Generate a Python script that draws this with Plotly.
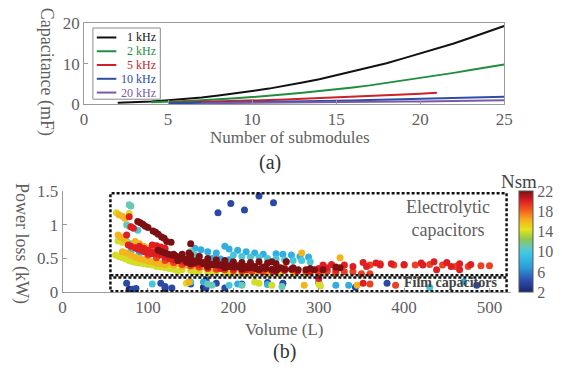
import plotly.graph_objects as go

W, H = 562, 376

# ---------------- Top chart data (capacitance vs number of submodules) ----------
n_1k = list(range(2, 26))
c_1k = [0.3, 0.4, 0.6, 0.9, 1.2, 1.6, 2.1, 2.6, 3.2, 3.8, 4.5, 5.3, 6.1, 7.1, 8.0, 9.0,
        10.1, 11.3, 12.5, 13.7, 15.0, 16.4, 17.8, 19.3]
n_2k = list(range(4, 26))
c_2k = [0.4, 0.5, 0.7, 0.9, 1.1, 1.4, 1.7, 2.0, 2.4, 2.8, 3.2, 3.6, 4.1, 4.6, 5.2, 5.8,
        6.4, 7.0, 7.7, 8.4, 9.1, 9.8]
n_5k = list(range(5, 22))
c_5k = [0.3, 0.4, 0.5, 0.6, 0.7, 0.85, 1.0, 1.1, 1.3, 1.45, 1.6, 1.75, 1.95, 2.15, 2.35,
        2.55, 2.8]
n_10k = list(range(5, 26))
c_10k = [0.15, 0.2, 0.25, 0.3, 0.35, 0.42, 0.48, 0.55, 0.62, 0.7, 0.78, 0.86, 0.95, 1.04,
         1.13, 1.23, 1.33, 1.44, 1.56, 1.68, 1.8]
n_20k = list(range(7, 26))
c_20k = [0.18, 0.2, 0.23, 0.26, 0.29, 0.32, 0.35, 0.38, 0.42, 0.46, 0.5, 0.54, 0.58, 0.63,
         0.68, 0.74, 0.8, 0.86, 0.92]
freq_labels = ["1 kHz", "2 kHz", "5 kHz", "10 kHz", "20 kHz"]
freq_colors = ["#111111", "#1f8f3f", "#cc2228", "#2c4ea6", "#7a5aa6"]

# ---------------- Bottom chart data (power loss vs volume, coloured by Nsm) --------
vol_22 = [88, 91, 94, 97, 100, 106, 109, 112, 116, 119, 122, 127,
          112, 116, 120, 124, 128, 132, 136, 140, 144, 148, 152, 156, 160, 164, 168, 172,
          176, 180, 184, 188, 192, 196, 200, 205, 210, 215, 220, 226, 232, 238, 245, 252,
          260, 268, 276, 285, 295, 305,
          130, 140, 150, 160, 170, 180, 190, 200, 210, 220, 230, 240, 250,
          150, 170, 190, 210, 230, 250, 150, 148, 245, 320, 325, 262,
          135, 145, 155, 165, 175, 185, 195, 205, 215, 225, 235, 255, 270, 290]
loss_22 = [1.05, 1.03, 1.01, 0.98, 0.96, 0.91, 0.89, 0.86, 0.82, 0.80, 0.75, 0.74,
           0.62, 0.60, 0.58, 0.56, 0.55, 0.54, 0.52, 0.50, 0.49, 0.48, 0.47, 0.46, 0.45,
           0.44, 0.43, 0.42, 0.41, 0.40, 0.40, 0.39, 0.38, 0.38, 0.37, 0.37, 0.36, 0.36,
           0.36, 0.35, 0.35, 0.35, 0.34, 0.34, 0.34, 0.34, 0.33, 0.33, 0.33, 0.33,
           0.56, 0.56, 0.55, 0.53, 0.50, 0.48, 0.47, 0.45, 0.44, 0.44, 0.45, 0.43, 0.42,
           0.42, 0.38, 0.36, 0.34, 0.33, 0.32, 0.72, 0.58, 0.45, 0.37, 0.36, 0.45,
           0.47, 0.45, 0.44, 0.42, 0.41, 0.40, 0.39, 0.39, 0.38, 0.38, 0.37, 0.36, 0.36, 0.35]

vol_20 = [78, 80, 83, 75, 77, 80, 85, 88, 92, 96, 100, 104,
          90, 95, 100, 105, 110, 115, 120, 125, 130, 135, 140, 145, 150, 155, 160,
          105, 110, 115, 120,
          300, 305, 310, 315, 320, 330, 340, 352, 356, 367, 372, 385, 400, 420, 422, 435,
          438, 450, 455, 465, 465, 478, 352, 300,
          170, 185, 200, 215, 230, 245, 260, 275, 290]
loss_20 = [1.12, 0.97, 0.95, 0.85, 0.70, 0.68, 0.66, 0.64, 0.62, 0.60, 0.58, 0.57,
           0.68, 0.65, 0.62, 0.60, 0.57, 0.55, 0.52, 0.50, 0.48, 0.47, 0.46, 0.44, 0.43,
           0.42, 0.41,
           0.70, 0.69, 0.67, 0.65,
           0.35, 0.40, 0.36, 0.41, 0.33, 0.40, 0.38, 0.44, 0.38, 0.43, 0.40, 0.42, 0.41,
           0.43, 0.40, 0.45, 0.33, 0.44, 0.38, 0.42, 0.33, 0.41, 0.13, 0.20,
           0.36, 0.35, 0.34, 0.33, 0.33, 0.32, 0.32, 0.31, 0.31]

vol_19 = [100, 110, 120, 130, 140, 150, 160, 170, 180, 190, 200,
          260, 270, 285, 300, 320, 340, 350, 360, 360, 372, 388, 400, 413, 430, 445, 460,
          475, 490, 500, 360, 390,
          210, 222, 235, 248, 310, 330]
loss_19 = [0.55, 0.51, 0.47, 0.44, 0.41, 0.39, 0.37, 0.35, 0.34, 0.33, 0.32,
           0.36, 0.33, 0.30, 0.28, 0.29, 0.30, 0.27, 0.40, 0.27, 0.42, 0.40, 0.40, 0.40,
           0.41, 0.40, 0.38, 0.38, 0.39, 0.39, 0.12, 0.10,
           0.31, 0.31, 0.30, 0.30, 0.31, 0.30]

vol_16 = [65, 68, 72, 66, 70, 73, 70, 75, 80, 85, 90, 95, 100, 105, 110, 115, 120, 130,
          140, 150, 160, 170, 180, 190, 200, 210, 220, 230, 240, 250, 270, 280, 325,
          345, 148, 283, 320, 85, 90, 95, 100, 110,
          125, 135, 145, 155, 165, 175, 290, 305]
loss_16 = [0.85, 0.82, 0.78, 1.15, 1.13, 1.10, 0.60, 0.58, 0.55, 0.52, 0.50, 0.48, 0.46,
           0.45, 0.43, 0.42, 0.41, 0.40, 0.38, 0.37, 0.36, 0.35, 0.34, 0.33, 0.32, 0.32,
           0.31, 0.31, 0.30, 0.30, 0.30, 0.58, 0.51, 0.10, 0.15, 0.10, 0.27,
           0.75, 0.72, 0.68, 0.65, 0.62,
           0.44, 0.42, 0.40, 0.38, 0.37, 0.36, 0.29, 0.29]

vol_14 = [63, 78, 62, 66, 70, 74, 78, 82, 86, 90, 95, 100, 105, 110, 115, 120, 125, 130,
          140, 150, 160, 170, 180, 190, 200, 210, 225, 240, 255, 65, 70, 75,
          145, 225, 230, 245, 300, 302,
          135, 155, 175, 195, 215, 270, 285]
loss_14 = [1.18, 1.17, 0.55, 0.53, 0.51, 0.49, 0.47, 0.45, 0.44, 0.43, 0.42, 0.41, 0.40,
           0.38, 0.37, 0.36, 0.35, 0.34, 0.33, 0.32, 0.31, 0.30, 0.30, 0.29, 0.29, 0.28,
           0.28, 0.27, 0.27, 0.76, 0.74, 0.73,
           0.13, 0.15, 0.13, 0.10, 0.12, 0.09,
           0.31, 0.30, 0.29, 0.28, 0.28, 0.27, 0.27]

vol_11 = [78, 80, 75, 78, 72, 75, 80, 85, 88, 84, 120, 150, 155, 175, 210, 257, 170]
loss_11 = [1.30, 1.28, 1.00, 0.98, 0.80, 0.75, 0.72, 0.70, 0.68, 0.65, 0.62, 0.60, 0.55,
           0.10, 0.10, 0.08, 0.12]

vol_10 = [88, 200, 210, 220, 230, 240, 250, 260, 270, 280, 290, 105, 150, 195, 430]
loss_10 = [0.92, 0.55, 0.53, 0.52, 0.52, 0.50, 0.49, 0.48, 0.47, 0.47, 0.45, 0.12, 0.15,
           0.10, 0.07]

vol_8 = [155, 162, 170, 180, 190, 195, 205, 215, 225, 235, 250, 258, 268, 278, 288,
         150, 160, 175, 185, 195, 80, 90, 110, 140,
         165, 205, 240, 320, 335, 470, 300]
loss_8 = [0.65, 0.63, 0.60, 0.58, 0.68, 0.64, 0.62, 0.60, 0.58, 0.56, 0.57, 0.56, 0.55,
          0.53, 0.52, 0.55, 0.53, 0.50, 0.49, 0.48, 0.60, 0.58, 0.55, 0.50,
          0.15, 0.12, 0.11, 0.10, 0.10, 0.15, 0.14]

vol_4 = [182, 197, 213, 230, 247, 75, 82, 86, 115, 120, 128, 150, 168, 168, 180, 190,
         210, 240, 258, 300, 380, 485, 343]
loss_4 = [1.18, 1.32, 1.22, 1.43, 1.33, 0.13, 0.04, 0.05, 0.13, 0.08, 0.06, 0.12, 0.06,
          0.17, 0.13, 0.06, 0.12, 0.14, 0.13, 0.14, 0.13, 0.10, 0.07]

vol_2 = [78, 85, 120, 165]
loss_2 = [0.04, 0.02, 0.05, 0.07]

groups = [(2, vol_2, loss_2), (4, vol_4, loss_4), (8, vol_8, loss_8), (10, vol_10, loss_10),
          (11, vol_11, loss_11), (14, vol_14, loss_14), (16, vol_16, loss_16),
          (19, vol_19, loss_19), (20, vol_20, loss_20), (22, vol_22, loss_22)]
cbar_ticks = [2, 6, 10, 14, 18, 22]

FONT = "Liberation Serif"
GRAY = "#5f5f5f"

# pixel layout
TOP_L, TOP_R, TOP_T, TOP_B = 82, 512, 15, 100
BOT_L, BOT_T, BOT_B = 60, 192, 298
BOT_XMAX = 525
BOT_PX_PER_UNIT = 0.874


def px(x):
    return x / W


def py(y):
    return 1 - y / H


fig = go.Figure()

for lab, col, xs, ys in zip(freq_labels, freq_colors,
                            [n_1k, n_2k, n_5k, n_10k, n_20k],
                            [c_1k, c_2k, c_5k, c_10k, c_20k]):
    fig.add_trace(go.Scatter(x=xs, y=ys, mode="lines", line=dict(color=col, width=2),
                             name=lab, showlegend=False, xaxis="x", yaxis="y"))

vx, vy, vc = [], [], []
for nsm, xs, ys in groups:
    vx += xs
    vy += ys
    vc += [nsm] * len(xs)

jet = [[0.0, "#1c2671"], [0.1, "#2a48a6"], [0.25, "#2c9fdc"], [0.38, "#3cc6e6"],
       [0.45, "#68c8b8"], [0.52, "#8cc850"], [0.62, "#e6e21e"], [0.72, "#f8a91e"],
       [0.82, "#f0561e"], [0.9, "#e01e22"], [1.0, "#7c0f12"]]

fig.add_trace(go.Scatter(
    x=vx, y=vy, mode="markers", showlegend=False, xaxis="x2", yaxis="y2",
    marker=dict(size=7, color=vc, colorscale=jet, cmin=2, cmax=22,
                colorbar=dict(x=px(527), xanchor="left", thickness=14, thicknessmode="pixels",
                              len=(BOT_B - BOT_T) / H, lenmode="fraction",
                              y=py((BOT_B + BOT_T) / 2), yanchor="middle", xpad=0, ypad=0,
                              tickvals=cbar_ticks, ticks="", outlinecolor="#555",
                              outlinewidth=1,
                              tickfont=dict(family=FONT, size=16, color=GRAY)),
                line=dict(width=0))))

axis_common = dict(showgrid=False, zeroline=False, showline=True, linecolor="#9a9a9a",
                   linewidth=1, ticks="inside", ticklen=4, tickcolor="#9a9a9a",
                   tickfont=dict(family=FONT, size=17, color=GRAY))

fig.update_layout(
    width=W, height=H, margin=dict(l=0, r=0, t=0, b=0), autosize=False,
    paper_bgcolor="white", plot_bgcolor="white", showlegend=False,
    xaxis=dict(domain=[px(TOP_L), px(TOP_R)], range=[0, 25],
               tickvals=[0, 5, 10, 15, 20, 25], mirror=True, anchor="y", **axis_common),
    yaxis=dict(domain=[py(TOP_B), py(TOP_T)], range=[0, 20], tickvals=[0, 10, 20],
               mirror=True, anchor="x", **axis_common),
    xaxis2=dict(domain=[px(BOT_L), px(BOT_L + BOT_XMAX * BOT_PX_PER_UNIT)],
                range=[0, BOT_XMAX], tickvals=[0, 100, 200, 300, 400, 500], anchor="y2",
                **axis_common),
    yaxis2=dict(domain=[py(BOT_B), py(BOT_T)], range=[0, 1.5], tickvals=[0, 0.5, 1, 1.5],
                ticktext=["0", "0.5", "1", "1.5"], anchor="x2", **axis_common),
)

# legend of the top chart (drawn as a boxed key)
fig.add_shape(type="rect", xref="paper", yref="paper", x0=px(91), x1=px(160),
              y0=py(95), y1=py(20), line=dict(color="#8a8a8a", width=1), fillcolor="white",
              layer="above")
legend_rows = [30, 44.5, 59, 73.5, 88]
for lab, col, ry in zip(freq_labels, freq_colors, legend_rows):
    fig.add_shape(type="line", xref="paper", yref="paper", x0=px(95), x1=px(115),
                  y0=py(ry), y1=py(ry), line=dict(color=col, width=2), layer="above")
    fig.add_annotation(text=lab, x=px(157), y=py(ry), xref="paper", yref="paper",
                       showarrow=False, xanchor="right", yanchor="middle", borderpad=0,
                       font=dict(family=FONT, size=12, color=col))

# dotted region boxes
fig.add_shape(type="rect", xref="x2", yref="y2", x0=56, x1=520, y0=0.25, y1=1.47,
              line=dict(color="#111", width=2.5, dash="3px,2px"))
fig.add_shape(type="rect", xref="x2", yref="y2", x0=56, x1=520, y0=0.012, y1=0.215,
              line=dict(color="#111", width=2.5, dash="3px,2px"))


def ann(text, x, y, size=18, color=GRAY, angle=0, **kw):
    fig.add_annotation(text=text, x=px(x), y=py(y), xref="paper", yref="paper",
                       showarrow=False, textangle=angle, xanchor="center", yanchor="middle",
                       font=dict(family=FONT, size=size, color=color), **kw)


ann("Capacitance (mF)", 43, 66, angle=90)
ann("Number of submodules", 293, 135, size=17)
ann("(a)", 272, 162, size=20, color="#333")
ann("Power loss (kW)", 18, 247, angle=90)
ann("Volume (L)", 287, 338, size=17)
ann("(b)", 287, 361, size=20, color="#333")
ann("Electrolytic<br>capacitors", 455, 221, size=18)
ann("<b>Film capacitors</b>", 457, 288, size=14, color="#444")
ann("Nsm", 527, 182, size=19, color="#444")

fig.write_html("out.html")
